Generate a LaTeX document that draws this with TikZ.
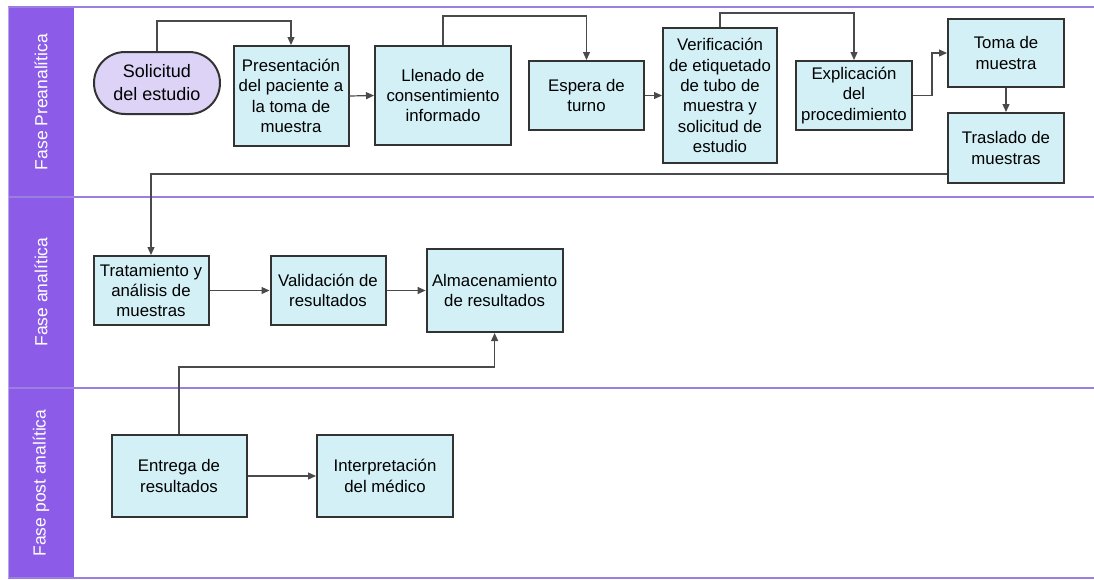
\documentclass[tikz,border=0pt]{standalone}
\usepackage{fontspec}
\setmainfont{Liberation Sans}
\usetikzlibrary{arrows.meta,calc}
\definecolor{hdr}{HTML}{8C5BE8}
\definecolor{laneline}{HTML}{9B7FE0}
\definecolor{boxfill}{HTML}{D2F0F5}
\definecolor{pillfill}{HTML}{DCD3F7}
\definecolor{boxdraw}{HTML}{333333}
\definecolor{conn}{HTML}{4A4A4A}
\tikzset{
  stepbox/.style={draw=boxdraw, fill=boxfill, line width=2pt, inner sep=0pt, align=center,
    font=\fontsize{16.8}{20.3}\selectfont},
  pill/.style={stepbox, fill=pillfill, rounded corners=31pt, font=\fontsize{18}{23}\selectfont},
  arr/.style={draw=conn, line width=1.2pt, -{Triangle[length=8pt,width=7pt]}},
  laneline/.style={draw=laneline, line width=1.5pt},
  lanetitle/.style={rotate=90, text=white, font=\fontsize{17.5}{20}\selectfont}
}
\begin{document}
\begin{tikzpicture}[x=1pt,y=-1pt]
\useasboundingbox (0,0) rectangle (1094,579);
% lanes
\fill[hdr] (8,7) rectangle (74,578);
\draw[laneline] (8,7) -- (1094,7);
\draw[laneline] (8,197) -- (1094,197);
\draw[laneline] (8,388) -- (1094,388);
\draw[laneline] (8,578) -- (1094,578);
\draw[draw=laneline!70, line width=1pt] (8,7) -- (8,578);
\node[lanetitle] (l1) at (41,102) {Fase Preanalítica};
\node[lanetitle] (l2) at (41,292) {Fase analítica};
\node[lanetitle] (l3) at (41,483) {Fase post analítica};
% lane 1
\node[pill, minimum width=126pt, minimum height=62pt] (sol) at (157,83) {Solicitud\\del estudio};
\node[stepbox, minimum width=115pt, minimum height=100pt] (pres) at (291,96) {Presentación\\del paciente a\\la toma de\\muestra};
\node[stepbox, minimum width=136pt, minimum height=99pt] (llen) at (443,95.5) {Llenado de\\consentimiento\\informado};
\node[stepbox, minimum width=115pt, minimum height=69pt] (esp) at (586.5,95.5) {Espera de\\turno};
\node[stepbox, minimum width=114pt, minimum height=135pt] (ver) at (720,95.5) {Verificación\\de etiquetado\\de tubo de\\muestra y\\solicitud de\\estudio};
\node[stepbox, minimum width=116pt, minimum height=69pt] (exp) at (854,95.5) {Explicación\\del\\procedimiento};
\node[stepbox, minimum width=116pt, minimum height=68pt] (toma) at (1006,53) {Toma de\\muestra};
\node[stepbox, minimum width=116pt, minimum height=70pt] (tras) at (1006,148) {Traslado de\\muestras};
% lane 2
\node[stepbox, minimum width=115pt, minimum height=69pt] (trat) at (151,290.5) {Tratamiento y\\análisis de\\muestras};
\node[stepbox, minimum width=115pt, minimum height=69pt] (val) at (328,290.5) {Validación de\\resultados};
\node[stepbox, minimum width=136pt, minimum height=83pt] (alm) at (494.6,290.5) {Almacenamiento\\de resultados};
% lane 3
\node[stepbox, minimum width=135pt, minimum height=82pt] (ent) at (179,476) {Entrega de\\resultados};
\node[stepbox, minimum width=136pt, minimum height=82pt] (int) at (385,476) {Interpretación\\del médico};
% connectors
\draw[arr] (sol.north) -- ++(0,-30) -| (pres.north);
\draw[arr] (pres.east) -- (llen.west);
\draw[arr] (llen.north) -- ++(0,-29) -| (esp.north);
\draw[arr] (esp.east) -- (ver.west);
\draw[arr] (ver.north) -- ++(0,-14) -| (exp.north);
\draw[arr] (exp.east) -- ++(19,0) |- (toma.west);
\draw[arr] (toma.south) -- (tras.north);
\draw[arr] ($(tras.south west)+(0,-10)$) -| (trat.north);
\draw[arr] (trat.east) -- (val.west);
\draw[arr] (val.east) -- (alm.west);
\draw[arr] (ent.north) -- ++(0,-67) -| (alm.south);
\draw[arr] (ent.east) -- (int.west);
\end{tikzpicture}
\end{document}
